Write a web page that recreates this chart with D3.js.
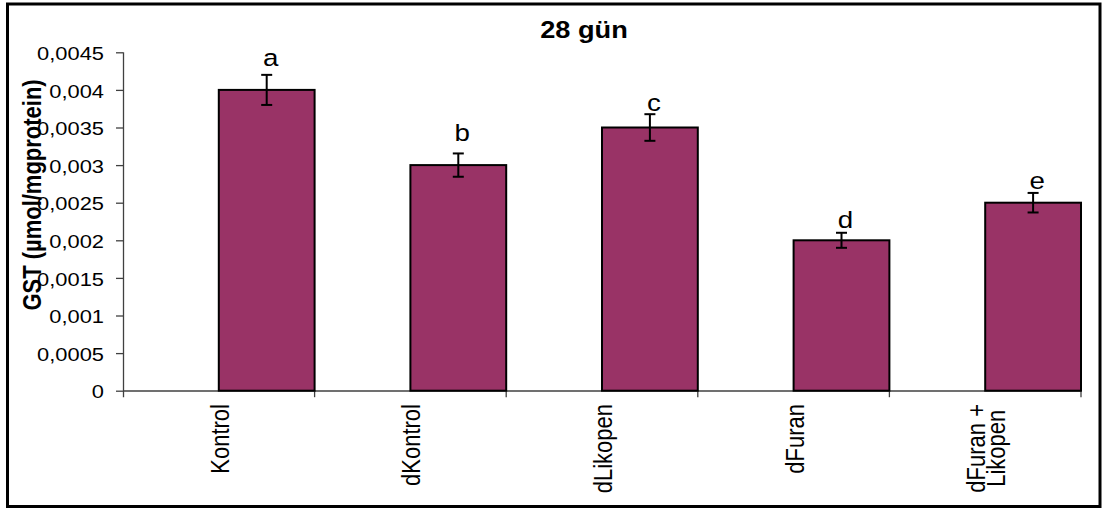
<!DOCTYPE html>
<html>
<head>
<meta charset="utf-8">
<script src="https://cdn.jsdelivr.net/npm/d3@7"></script>
<style>
  html, body { margin: 0; padding: 0; background: #fff; }
  svg { display: block; }
  text { font-family: Arial, "Liberation Sans", sans-serif; fill: #000; }
</style>
</head>
<body>
<svg id="chart" width="1103" height="509"></svg>
<script>
// GST activity after 28 days, per treatment group
const categories = ["Kontrol", "dKontrol", "dLikopen", "dFuran", "dFuran +\nLikopen"];
const gstValues  = [0.004, 0.003, 0.0035, 0.002, 0.0025];
const gstErrors  = [0.0002, 0.000155, 0.000177, 0.0001, 0.00013];
const groupLetters = ["a", "b", "c", "d", "e"];
const yTicks      = [0, 0.0005, 0.001, 0.0015, 0.002, 0.0025, 0.003, 0.0035, 0.004, 0.0045];
const yTickLabels = ["0", "0,0005", "0,001", "0,0015", "0,002", "0,0025", "0,003", "0,0035", "0,004", "0,0045"];
const titleText  = "28 gün";
const yAxisTitle = "GST (µmol/mgprotein)";

// layout
const plot = { left: 123, right: 1081, top: 52.3, bottom: 390.7 };
const letterLift = [9, 12, 3, 4.4, 4.4];   // gap between whisker top and letter baseline
const barColor = "#993366";

const svg = d3.select("#chart");

// outer frame
svg.append("rect")
  .attr("x", 7.5).attr("y", 4).attr("width", 1092.5).attr("height", 502.5)
  .attr("fill", "#fff").attr("stroke", "#000").attr("stroke-width", 3);

const x = d3.scaleBand().domain(categories).range([plot.left, plot.right]).padding(0);
const y = d3.scaleLinear().domain([0, 0.0045]).range([plot.bottom, plot.top]);

// y axis
const yAxis = d3.axisLeft(y)
  .tickValues(yTicks)
  .tickFormat((d, i) => yTickLabels[i])
  .tickSize(7)
  .tickSizeOuter(0);

const gy = svg.append("g").attr("transform", `translate(${plot.left},0)`).call(yAxis);
gy.select(".domain").attr("stroke", "#404040").attr("stroke-width", 1.3)
  .attr("d", `M0.5,${plot.top}V${plot.bottom + 6.5}`);
gy.selectAll(".tick line").attr("stroke", "#404040").attr("stroke-width", 1.3);
gy.selectAll(".tick text")
  .attr("x", null).attr("dy", null)
  .attr("dominant-baseline", "central")
  .attr("text-anchor", "end")
  .attr("transform", "translate(-19,1) scale(1.25,1)")
  .style("font-size", "17.5px")
  .style("font-family", "Arial, 'Liberation Sans', sans-serif")
  .attr("fill", "#000");

// x axis baseline with ticks at category boundaries
svg.append("line")
  .attr("x1", plot.left).attr("x2", plot.right)
  .attr("y1", plot.bottom + 0.3).attr("y2", plot.bottom + 0.3)
  .attr("stroke", "#404040").attr("stroke-width", 1.3);
svg.selectAll("line.xtick")
  .data(categories)
  .join("line")
  .attr("class", "xtick")
  .attr("x1", d => x(d) + x.bandwidth()).attr("x2", d => x(d) + x.bandwidth())
  .attr("y1", plot.bottom).attr("y2", plot.bottom + 6.5)
  .attr("stroke", "#404040").attr("stroke-width", 1.3);

// bars sit in the right half of each category slot
const half = x.bandwidth() / 2;
const barX = d => x(d) + half;
svg.selectAll("rect.bar")
  .data(categories)
  .join("rect")
  .attr("class", "bar")
  .attr("x", d => barX(d))
  .attr("y", (d, i) => y(gstValues[i]))
  .attr("width", half)
  .attr("height", (d, i) => y(0) - y(gstValues[i]))
  .attr("fill", barColor)
  .attr("stroke", "#000")
  .attr("stroke-width", 2);

// error bars
const cap = 5.5;
const eb = svg.selectAll("g.err").data(categories).join("g").attr("class", "err")
  .attr("stroke", "#000").attr("stroke-width", 2);
eb.append("line")
  .attr("x1", d => barX(d) + half / 2).attr("x2", d => barX(d) + half / 2)
  .attr("y1", (d, i) => y(gstValues[i] + gstErrors[i]))
  .attr("y2", (d, i) => y(gstValues[i] - gstErrors[i]));
eb.append("line")
  .attr("x1", d => barX(d) + half / 2 - cap).attr("x2", d => barX(d) + half / 2 + cap)
  .attr("y1", (d, i) => y(gstValues[i] + gstErrors[i]))
  .attr("y2", (d, i) => y(gstValues[i] + gstErrors[i]));
eb.append("line")
  .attr("x1", d => barX(d) + half / 2 - cap).attr("x2", d => barX(d) + half / 2 + cap)
  .attr("y1", (d, i) => y(gstValues[i] - gstErrors[i]))
  .attr("y2", (d, i) => y(gstValues[i] - gstErrors[i]));

// significance letters
svg.selectAll("text.letter")
  .data(categories)
  .join("text")
  .attr("class", "letter")
  .attr("text-anchor", "middle")
  .attr("transform", (d, i) =>
    `translate(${barX(d) + half / 2 + 4},${y(gstValues[i] + gstErrors[i]) - letterLift[i]}) scale(1.18,1)`)
  .style("font-size", "23.5px")
  .text((d, i) => groupLetters[i]);

// category labels, rotated, top-aligned under the axis and centred per line
categories.forEach(cat => {
  const lines = cat.split("\n");
  const n = lines.length;
  const cx = x(cat) + half;
  const g = svg.append("g");
  const texts = lines.map((ln, i) =>
    g.append("text")
      .attr("text-anchor", "middle")
      .style("font-size", "22px")
      .text(ln));
  const maxLen = d3.max(texts, t => t.node().getComputedTextLength());
  const cy = 404 + maxLen / 2;
  texts.forEach((t, i) => {
    const bx = cx + 10 - (n - 1) * 10 + i * 20;
    t.attr("transform", `translate(${bx},${cy}) scale(1.16,1) rotate(-90)`);
  });
});

// axis title
svg.append("text")
  .attr("text-anchor", "middle")
  .attr("transform", "translate(41,195) scale(1.15,1) rotate(-90)")
  .style("font-size", "22px")
  .style("font-weight", "bold")
  .text(yAxisTitle);

// chart title
svg.append("text")
  .attr("text-anchor", "middle")
  .attr("transform", "translate(584,38.3) scale(1.1,1)")
  .style("font-size", "24.7px")
  .style("font-weight", "bold")
  .text(titleText);
</script>
</body>
</html>
